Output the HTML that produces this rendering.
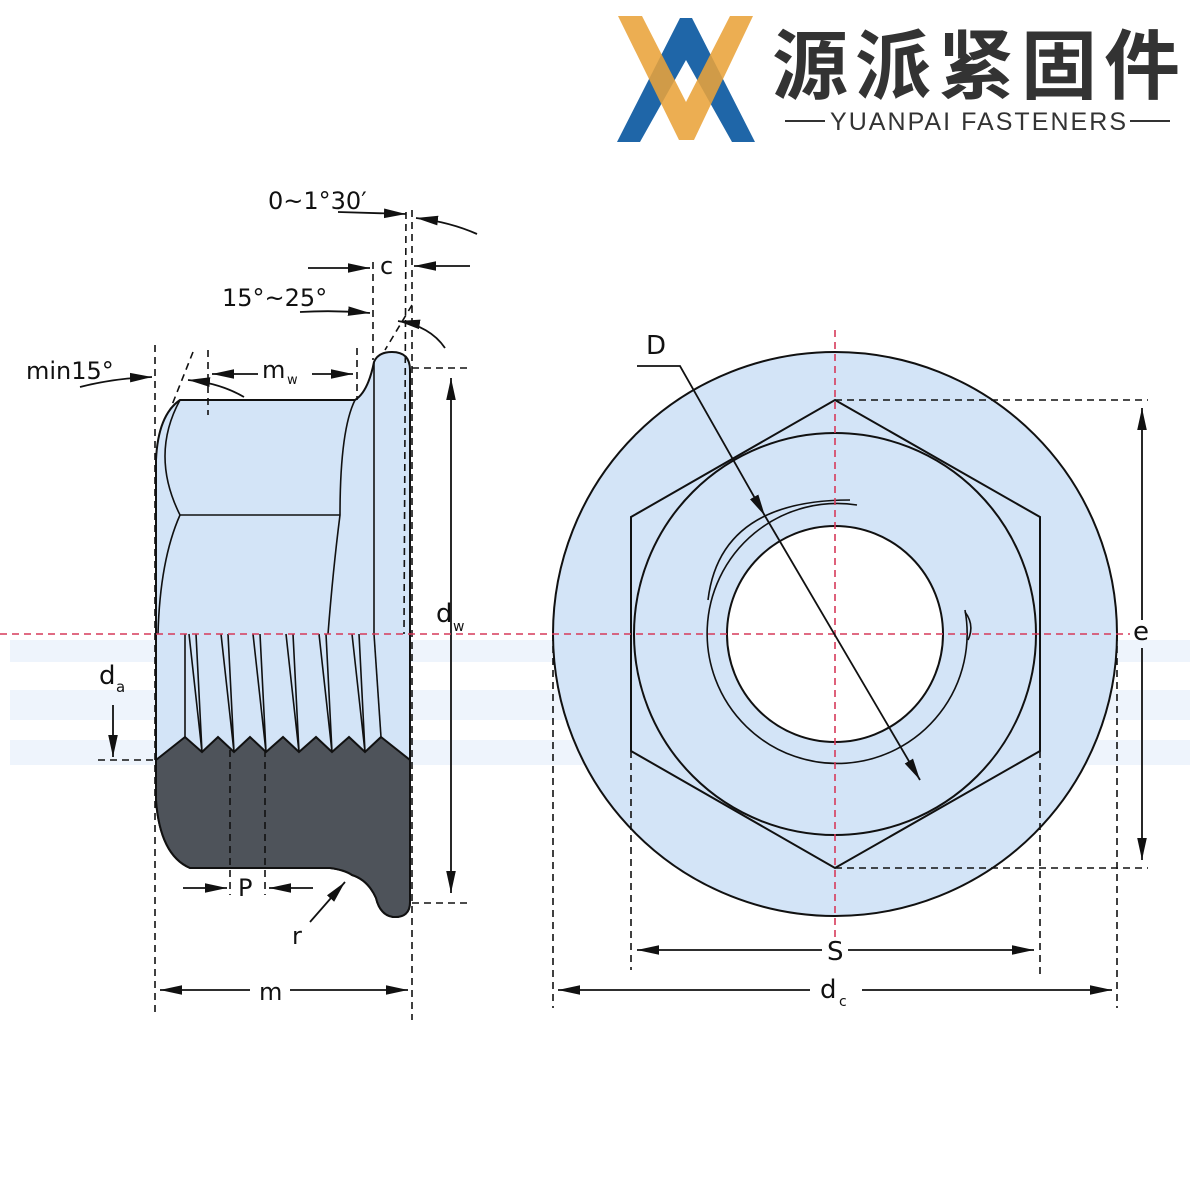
<!DOCTYPE html>
<html><head><meta charset="utf-8"><style>
html,body{margin:0;padding:0;background:#fff;}
svg{display:block}
text{font-family:"DejaVu Sans","Liberation Sans",sans-serif;fill:#111}
</style></head><body>
<svg width="1200" height="1200" viewBox="0 0 1200 1200" xmlns="http://www.w3.org/2000/svg">
<defs>
<marker id="b" viewBox="0 0 10 10" refX="10" refY="5" markerWidth="22" markerHeight="12" orient="auto-start-reverse" markerUnits="userSpaceOnUse" preserveAspectRatio="none"><path d="M0,1 L10,5 L0,9z" fill="#111"/></marker>
</defs>
<!-- logo -->
<polygon points="617,142 640,142 686,60 732,142 755,142 692,18 680,18" fill="#1f66a8"/>
<polygon points="618,16 642,16 686,102 730,16 753,16 694,140 679,140" fill="#e9a33a" opacity="0.88"/>
<text x="772" y="93" font-size="76" font-weight="bold" style="font-family:'Noto Sans CJK SC','WenQuanYi Zen Hei',sans-serif;fill:#333" textLength="408">源派紧固件</text>
<line x1="785" y1="121" x2="825" y2="121" stroke="#333" stroke-width="2"/>
<line x1="1130" y1="121" x2="1170" y2="121" stroke="#333" stroke-width="2"/>
<text x="830" y="130" font-size="25" style="font-family:'Liberation Sans',sans-serif;fill:#333" textLength="296">YUANPAI FASTENERS</text>

<!-- watermark band -->
<g fill="#eef4fc">
<rect x="10" y="640" width="1180" height="22"/>
<rect x="10" y="690" width="1180" height="30"/>
<rect x="10" y="740" width="1180" height="25"/>
</g>

<!-- LEFT VIEW -->
<g stroke="#111" stroke-width="2" fill="#d3e4f7" stroke-linejoin="round">
<path d="M180,400 L355,400 Q368,392 374,362 Q378,352 392,352 Q410,352 410,370 L410,902 Q410,918 393,917 Q380,915 376,898 Q368,880 352,875 Q345,870 330,868 L190,868 Q160,855 156,800 L156,460 Q158,415 180,400 Z"/>
</g>
<path d="M156,760 L185,737 L202,752 L218,737 L234,752 L250,737 L266,752 L283,737 L299,752 L316,737 L332,752 L349,737 L365,752 L381,737 L410,760 L410,902 Q410,918 393,917 Q380,915 376,898 Q368,880 352,875 Q345,870 330,868 L190,868 Q160,855 156,800 Z" fill="#4e535a" stroke="#111" stroke-width="2"/>
<g stroke="#111" stroke-width="1.6" fill="none">
<path d="M180,400 Q150,455 180,515 L340,515"/>
<path d="M180,515 Q160,560 158,634"/>
<path d="M355,400 Q340,430 340,515 Q333,570 328,634"/>
<line x1="374" y1="362" x2="374" y2="634"/>
<line x1="374" y1="634" x2="381" y2="737"/>
<!-- threads -->
<path d="M185,634 L185,737 M189,634 L202,752 M196,634 L202,752 M221,634 L234,752 M228,634 L234,752 M253,634 L266,752 M260,634 L266,752 M286,634 L299,752 M293,634 L299,752 M319,634 L332,752 M326,634 L332,752 M352,634 L365,752 M359,634 L365,752"/>
</g>
<!-- dashed lines left -->
<g stroke="#111" stroke-width="1.6" stroke-dasharray="7,5" fill="none">
<line x1="155" y1="345" x2="155" y2="1015"/>
<line x1="412" y1="210" x2="412" y2="1020"/>
<line x1="406" y1="212" x2="404" y2="634"/>
<line x1="208" y1="350" x2="208" y2="415"/>
<line x1="357" y1="348" x2="357" y2="400"/>
<line x1="373" y1="262" x2="373" y2="360"/>
<line x1="193" y1="352" x2="170" y2="410"/>
<line x1="412" y1="305" x2="385" y2="350"/>
<line x1="412" y1="368" x2="468" y2="368"/>
<line x1="412" y1="903" x2="468" y2="903"/>
<line x1="98" y1="760" x2="156" y2="760"/>
<line x1="230" y1="750" x2="230" y2="895"/>
<line x1="265" y1="750" x2="265" y2="895"/>
</g>
<g stroke="#111" stroke-width="1.8" fill="none">
<line x1="451" y1="378" x2="451" y2="893" marker-start="url(#b)" marker-end="url(#b)"/>
<line x1="160" y1="990" x2="250" y2="990" marker-start="url(#b)"/>
<line x1="290" y1="990" x2="408" y2="990" marker-end="url(#b)"/>
<line x1="212" y1="374" x2="258" y2="374" marker-start="url(#b)"/>
<line x1="312" y1="374" x2="353" y2="374" marker-end="url(#b)"/>
<line x1="183" y1="888" x2="227" y2="888" marker-end="url(#b)"/>
<line x1="313" y1="888" x2="269" y2="888" marker-end="url(#b)"/>
<path d="M310,922 L345,882" marker-end="url(#b)"/>
<line x1="113" y1="705" x2="113" y2="757" marker-end="url(#b)"/>
<path d="M80,387 Q115,378 152,377" marker-end="url(#b)"/>
<path d="M244,397 Q220,383 188,380" marker-end="url(#b)"/>
<line x1="308" y1="268" x2="370" y2="268" marker-end="url(#b)"/>
<line x1="470" y1="266" x2="414" y2="266" marker-end="url(#b)"/>
<path d="M300,312 Q335,310 370,313" marker-end="url(#b)"/>
<path d="M445,348 Q430,326 398,321" marker-end="url(#b)"/>
<line x1="338" y1="212" x2="406" y2="214" marker-end="url(#b)"/>
<path d="M477,234 Q450,222 416,218" marker-end="url(#b)"/>
</g>
<g font-size="24">
<text x="268" y="209">0~1°30′</text>
<text x="380" y="274">c</text>
<text x="222" y="306">15°~25°</text>
<text x="26" y="379">min15°</text>
<text x="262" y="378">m</text><text x="287" y="384" font-size="13">w</text>
<text x="436" y="622" font-size="26">d</text><text x="453" y="631" font-size="14">w</text>
<text x="99" y="684" font-size="26">d</text><text x="116" y="692" font-size="15">a</text>
<text x="238" y="896">P</text>
<text x="292" y="944">r</text>
<text x="259" y="1000">m</text>
</g>

<!-- RIGHT VIEW -->
<g stroke="#111" stroke-width="2" fill="#d3e4f7">
<circle cx="835" cy="634" r="282"/>
<polygon points="835,400 1040,517 1040,751 835,868 631,751 631,517" fill="#d3e4f7"/>
<circle cx="835" cy="634" r="201"/>
<circle cx="835" cy="634" r="108" fill="#fff"/>
</g>
<g stroke="#111" stroke-width="1.6" fill="none">
<path d="M857,505 A130,130 0 1 0 965,610"/>
<path d="M850,500 Q720,500 708,600"/>
<path d="M965,612 Q975,625 968,640"/>
</g>
<g stroke="#111" stroke-width="1.6" stroke-dasharray="7,5" fill="none">
<line x1="835" y1="400" x2="1148" y2="400"/>
<line x1="835" y1="868" x2="1148" y2="868"/>
<line x1="631" y1="751" x2="631" y2="970"/>
<line x1="1040" y1="751" x2="1040" y2="975"/>
<line x1="553" y1="634" x2="553" y2="1008"/>
<line x1="1117" y1="634" x2="1117" y2="1008"/>
</g>
<g stroke="#d63a5a" stroke-width="1.6" stroke-dasharray="7,5">
<line x1="0" y1="634" x2="1130" y2="634"/>
<line x1="835" y1="330" x2="835" y2="940"/>
</g>
<g stroke="#111" stroke-width="1.8" fill="none">
<line x1="1142" y1="408" x2="1142" y2="620" marker-start="url(#b)"/>
<line x1="1142" y1="648" x2="1142" y2="860" marker-end="url(#b)"/>
<line x1="637" y1="950" x2="822" y2="950" marker-start="url(#b)"/>
<line x1="848" y1="950" x2="1034" y2="950" marker-end="url(#b)"/>
<line x1="558" y1="990" x2="810" y2="990" marker-start="url(#b)"/>
<line x1="862" y1="990" x2="1112" y2="990" marker-end="url(#b)"/>
<path d="M637,366 L680,366 L765,516" marker-end="url(#b)"/>
<line x1="765" y1="516" x2="920" y2="780" marker-end="url(#b)"/>
</g>
<g font-size="26">
<text x="646" y="354">D</text>
<text x="1133" y="640">e</text>
<text x="827" y="960">S</text>
<text x="820" y="998">d</text><text x="839" y="1006" font-size="14">c</text>
</g>
</svg>
</body></html>
